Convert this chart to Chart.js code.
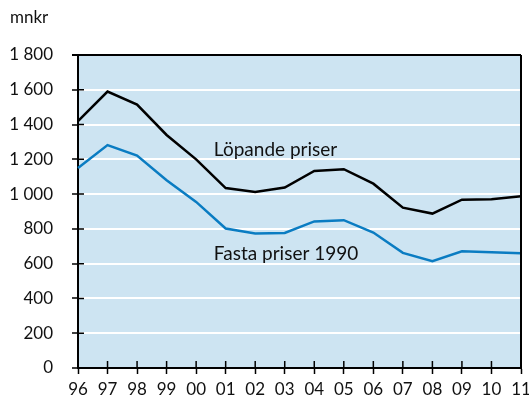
<!DOCTYPE html>
<html>
<head>
<meta charset="utf-8">
<script src="https://cdn.jsdelivr.net/npm/chart.js@4/dist/chart.umd.min.js"></script>
<style>
  html, body { margin: 0; padding: 0; background: #fff; }
  #wrap { width: 529px; height: 399px; }
</style>
</head>
<body>
<div id="wrap"><canvas id="myChart"></canvas></div>
<script>
const years = ['96', '97', '98', '99', '00', '01', '02', '03', '04', '05', '06', '07', '08', '09', '10', '11'];
const lopande = [1420, 1590, 1515, 1340, 1200, 1035, 1012, 1038, 1133, 1143, 1060, 922, 888, 968, 970, 988];
const fasta = [1150, 1282, 1222, 1080, 955, 802, 774, 777, 843, 850, 779, 662, 614, 671, 665, 660];
const yTicks = [0, 200, 400, 600, 800, 1000, 1200, 1400, 1600, 1800];

const FONT = 'Lato, "Open Sans", sans-serif';
const BG = '#cde4f2';

// light blue plot area, frame, crossing tick marks and the series names
const decor = {
    id: 'decor',
    beforeDraw(chart) {
        const a = chart.chartArea, c = chart.ctx;
        c.save();
        c.fillStyle = BG;
        c.fillRect(a.left, a.top, a.right - a.left, a.bottom - a.top);
        c.restore();
    },
    afterDraw(chart) {
        const a = chart.chartArea, c = chart.ctx;
        const x = chart.scales.x, y = chart.scales.y;
        c.save();
        c.strokeStyle = '#000';
        c.lineWidth = 2;
        c.beginPath();
        c.moveTo(a.left - 6, a.top); c.lineTo(a.right, a.top);
        c.moveTo(a.right, a.top); c.lineTo(a.right, a.bottom);
        c.stroke();
        c.lineWidth = 1.5;
        c.beginPath();
        yTicks.forEach(v => {
            const py = y.getPixelForValue(v);
            c.moveTo(a.left, py); c.lineTo(a.left + 6, py);
        });
        years.forEach((_, i) => {
            const px = x.getPixelForValue(i);
            c.moveTo(px, a.bottom); c.lineTo(px, a.bottom - 7);
        });
        c.stroke();

        c.fillStyle = '#111';
        c.font = '17px ' + FONT;
        c.textBaseline = 'middle';
        c.textAlign = 'left';
        c.fillText('mnkr', 10, 18);
        c.font = '19px ' + FONT;
        c.fillText('Löpande priser', x.getPixelForValue(4.6), y.getPixelForValue(1253));
        c.fillText('Fasta priser 1990', x.getPixelForValue(4.6), y.getPixelForValue(654));
        c.restore();
    }
};

const ctx = document.getElementById('myChart').getContext('2d');
new Chart(ctx, {
    type: 'line',
    data: {
        labels: years,
        datasets: [{
            label: 'Löpande priser',
            data: lopande,
            borderColor: '#000000',
            borderWidth: 2.5,
            pointRadius: 0,
            tension: 0,
            fill: false
        }, {
            label: 'Fasta priser 1990',
            data: fasta,
            borderColor: '#0a7cc2',
            borderWidth: 2.5,
            pointRadius: 0,
            tension: 0,
            fill: false
        }]
    },
    options: {
        responsive: true,
        maintainAspectRatio: false,
        animation: false,
        layout: { padding: { top: 55, right: 8, left: 0, bottom: 0 } },
        plugins: {
            legend: { display: false },
            tooltip: { enabled: false }
        },
        scales: {
            x: {
                offset: false,
                grid: {
                    drawOnChartArea: false,
                    drawTicks: true,
                    tickLength: 6,
                    tickColor: '#000',
                    tickWidth: 1.5
                },
                border: { display: true, color: '#000', width: 2 },
                ticks: {
                    color: '#111',
                    font: { family: FONT, size: 17 },
                    padding: 5,
                    maxRotation: 0,
                    autoSkip: false
                },
                afterFit(scale) {
                    scale.height = 31;
                    scale.paddingRight = 0;
                    scale.paddingLeft = 0;
                }
            },
            y: {
                min: 0,
                max: 1800,
                grid: {
                    color: '#ffffff',
                    lineWidth: 2,
                    drawTicks: true,
                    tickLength: 6,
                    tickColor: '#000',
                    tickWidth: 1.5
                },
                border: { display: true, color: '#000', width: 2 },
                ticks: {
                    stepSize: 200,
                    color: '#111',
                    font: { family: FONT, size: 17 },
                    padding: 19,
                    callback: v => String(v).replace(/\B(?=(\d{3})+(?!\d))/g, ' ')
                },
                afterFit(scale) { scale.width = 78; }
            }
        }
    },
    plugins: [decor]
});
</script>
</body>
</html>
